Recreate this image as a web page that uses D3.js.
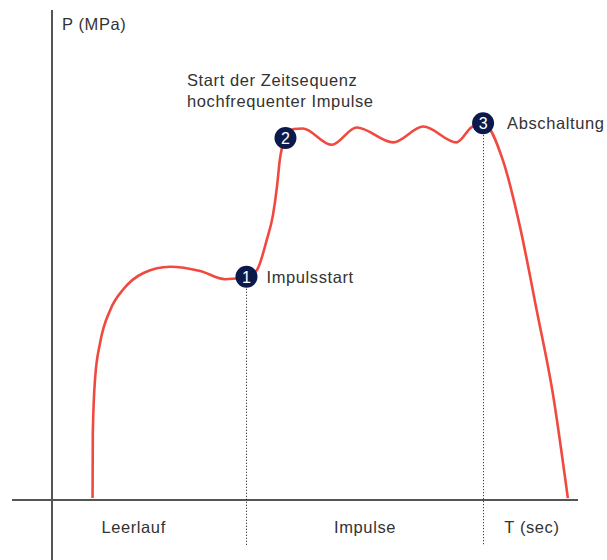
<!DOCTYPE html>
<html>
<head>
<meta charset="utf-8">
<script src="https://cdn.jsdelivr.net/npm/d3@7"></script>
<style>
  body { margin: 0; background: #fff; }
  text { font-family: "Liberation Sans", Arial, sans-serif; fill: #333; letter-spacing: 0.6px; }
</style>
</head>
<body>
<svg id="chart" width="607" height="560"></svg>
<script>
// pressure curve, T (0..100) vs P (0..100)
var curveT = [7.8, 7.85, 8.3, 9.3, 11.2, 13.8, 17.6, 22.7, 28.5, 33.3, 37.4,
  39.4, 41.3, 42.5, 43.3, 43.8, 44.9, 46.5, 48.2, 53.8, 58.6, 65.6, 71.4, 77.8, 80.7, 82.9,
  86.7, 90.0, 93.2, 96.3, 99.2];
var curveP = [0.4, 14.0, 25.5, 33.0, 39.6, 44.0, 47.3, 48.6, 47.7, 46.0, 46.5,
  47.9, 54.2, 59.4, 65.6, 70.8, 75.4, 77.3, 77.4, 74.0, 77.6, 74.5, 77.8, 74.5, 77.7, 78.5,
  70.8, 56.9, 39.6, 22.3, 0.4];

// numbered markers
var markerIds = ["1", "2", "3"];
var markerT = [37.4, 44.9, 82.9];
var markerP = [46.5, 75.4, 78.5];
var markerLabels = ["Impulsstart", "", "Abschaltung"];
var labelDx = [20, 0, 24];
var dropLines = [true, false, true];

// phases along the time axis
var phaseLabels = ["Leerlauf", "Impulse", "T (sec)"];
var phaseT = [15.7, 60.2, 92.3];

var svg = d3.select("#chart");

var x = d3.scaleLinear().domain([0, 100]).range([52, 572]);
var y = d3.scaleLinear().domain([0, 100]).range([500, 20]);

// axes
svg.append("line")
  .attr("x1", x(0)).attr("x2", x(0))
  .attr("y1", 10).attr("y2", 560)
  .attr("stroke", "#555").attr("stroke-width", 2);
svg.append("line")
  .attr("x1", 12).attr("x2", 578)
  .attr("y1", y(0)).attr("y2", y(0))
  .attr("stroke", "#555").attr("stroke-width", 2);

// dotted guide lines below markers 1 and 3 (snapped to pixel so they stay crisp)
markerT.forEach(function(t, i) {
  if (!dropLines[i]) return;
  var px = Math.round(x(t)) + 0.5;
  svg.append("line")
    .attr("x1", px).attr("x2", px)
    .attr("y1", y(markerP[i])).attr("y2", 546)
    .attr("stroke", "#111").attr("stroke-width", 1)
    .attr("stroke-dasharray", "1,2");
});

var pts = curveT.map(function(t, i) { return [t, curveP[i]]; });
var line = d3.line()
  .x(function(d) { return x(d[0]); })
  .y(function(d) { return y(d[1]); })
  .curve(d3.curveMonotoneX);

svg.append("path")
  .datum(pts)
  .attr("d", line)
  .attr("fill", "none")
  .attr("stroke", "#f04a40")
  .attr("stroke-width", 2.6);

// markers
var mk = svg.append("g").selectAll("g")
  .data(markerIds)
  .enter().append("g")
  .attr("transform", function(d, i) { return "translate(" + x(markerT[i]) + "," + y(markerP[i]) + ")"; });
mk.append("circle").attr("r", 11).attr("fill", "#0b1a4b");
mk.append("text")
  .attr("text-anchor", "middle").attr("dy", "0.36em")
  .style("fill", "#fff").style("font-size", "16px").style("letter-spacing", "0")
  .text(function(d) { return d; });

svg.append("g").selectAll("text")
  .data(markerLabels)
  .enter().append("text")
  .attr("x", function(d, i) { return x(markerT[i]) + labelDx[i]; })
  .attr("y", function(d, i) { return y(markerP[i]) + 6; })
  .style("font-size", "16.5px")
  .text(function(d) { return d; });

// axis titles and annotations
svg.append("text").attr("x", 62).attr("y", 30).style("font-size", "16.5px").text("P (MPa)");
svg.append("text").attr("x", 187).attr("y", 86).style("font-size", "16.5px").text("Start der Zeitsequenz");
svg.append("text").attr("x", 187).attr("y", 107).style("font-size", "16.5px").text("hochfrequenter Impulse");

svg.append("g").selectAll("text")
  .data(phaseLabels)
  .enter().append("text")
  .attr("x", function(d, i) { return x(phaseT[i]); })
  .attr("y", 533)
  .attr("text-anchor", "middle")
  .style("font-size", "16.5px")
  .text(function(d) { return d; });
</script>
</body>
</html>
